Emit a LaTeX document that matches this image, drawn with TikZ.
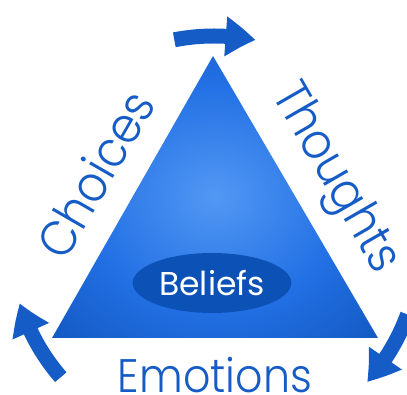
\documentclass[tikz,border=0pt]{standalone}
\usepackage{fontspec}
\setmainfont{Poppins}
\newfontfamily\wordfont{Poppins}[UprightFont=* Light, FakeStretch=0.91]
\usetikzlibrary{arrows.meta,bending,shapes.geometric}
\definecolor{triCentre}{RGB}{82,152,243}
\definecolor{triMid}{RGB}{34,112,228}
\definecolor{triEdge}{RGB}{10,74,172}
\definecolor{coreBlue}{RGB}{12,82,182}
\definecolor{wordBlue}{RGB}{22,92,198}
\pgfdeclareradialshading{triglow}{\pgfpoint{0bp}{0bp}}{color(0bp)=(triCentre); color(20bp)=(triMid); color(38bp)=(triEdge!70!triMid); color(50bp)=(triEdge); color(72bp)=(triEdge)}
\tikzset{
  sideword/.style={text=wordBlue, inner sep=0pt, font=\wordfont\fontsize{#1}{#1}\selectfont},
  sideword/.default=47,
  roundarrow/.style={line width=15pt, draw=wordBlue, -{Triangle[length=30pt,width=38pt,bend]}}
}
\begin{document}
\begin{tikzpicture}[x=1pt,y=1pt]
  \useasboundingbox (0,0) rectangle (407,395);
  \coordinate (O) at (214,151);
  \coordinate (A) at (213,339); \coordinate (L) at (52,57); \coordinate (R) at (378,57);
  \shade[shading=triglow] (A) -- (L) -- (R) -- cycle;
  \node[ellipse, fill=coreBlue, minimum width=152pt, minimum height=60pt, text=white,
    font=\fontsize{33}{36}\selectfont] (beliefs) at (212,112) {Beliefs};
  \node[sideword=50, rotate=60] (choices) at (95,221) {Choices};
  \node[sideword=50, rotate=-60] (thoughts) at (334,216) {Thoughts};
  \node[sideword, anchor=base] (emotions) at (215,2) {Emotions};
  \draw[roundarrow] (O) ++(101:208) arc[start angle=101, end angle=78.5, radius=208];
  \draw[roundarrow] (O) ++(221:203) arc[start angle=221, end angle=197, radius=203];
  \draw[roundarrow] (O) ++(-20:206) arc[start angle=-20, end angle=-42, radius=206];
\end{tikzpicture}
\end{document}
